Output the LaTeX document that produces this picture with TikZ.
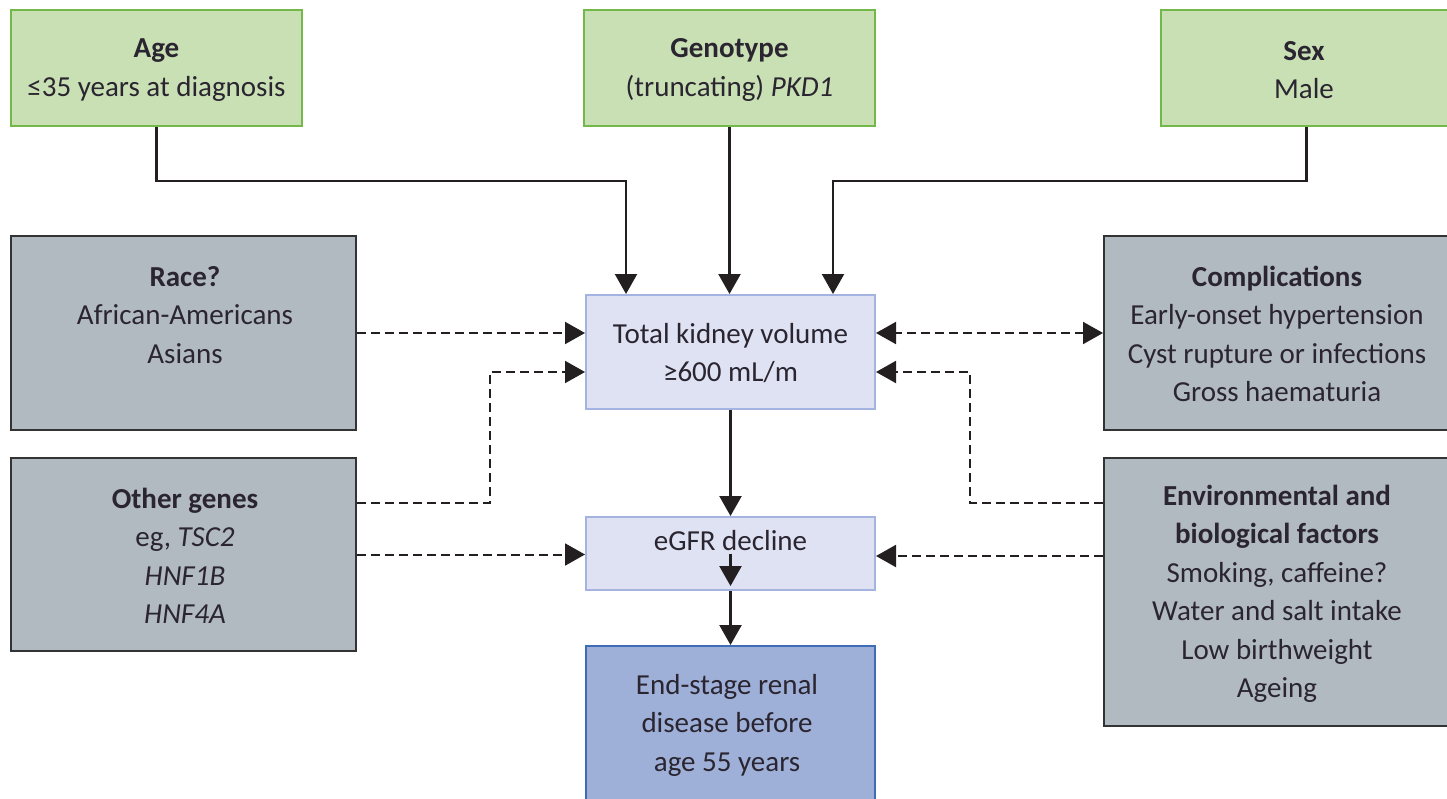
\documentclass[tikz,border=0pt]{standalone}
\usepackage{fontspec}
\setmainfont{Carlito}
\usetikzlibrary{arrows.meta,calc}
\definecolor{gfill}{HTML}{C9E0B4}
\definecolor{gdraw}{HTML}{74B84A}
\definecolor{sfill}{HTML}{B2BAC1}
\definecolor{sdraw}{HTML}{333333}
\definecolor{bfill}{HTML}{DEE2F2}
\definecolor{bdraw}{HTML}{A4B3E0}
\definecolor{dfill}{HTML}{9FB0D8}
\definecolor{ddraw}{HTML}{3F6DB5}
\definecolor{txtc}{HTML}{2A2530}
\definecolor{linec}{HTML}{231F20}
\tikzset{
  boxbase/.style={rectangle, line width=2pt, inner sep=0pt},
  greenbox/.style={boxbase, fill=gfill, draw=gdraw},
  greybox/.style={boxbase, fill=sfill, draw=sdraw},
  bluebox/.style={boxbase, fill=bfill, draw=bdraw},
  darkbox/.style={boxbase, fill=dfill, draw=ddraw},
  txt/.style={align=center, text=txtc, inner sep=0pt, font=\fontsize{29}{38.5}\selectfont},
  tip/.style={-{Triangle[length=20pt,width=22pt]}},
  solidline/.style={tip, line width=2.3pt, draw=linec},
  dashline/.style={tip, line width=2pt, draw=linec, dash pattern=on 9pt off 5pt},
}
\begin{document}
\begin{tikzpicture}[x=1pt,y=-1pt]
\useasboundingbox (0,0) rectangle (1447,798);
% boxes
\node[greenbox, minimum width=291pt, minimum height=116pt] (age) at (156.5,68) {};
\node[greenbox, minimum width=291pt, minimum height=116pt] (geno) at (729.5,68) {};
\node[greenbox, minimum width=291pt, minimum height=116pt] (sex) at (1306.5,68) {};
\node[greybox, minimum width=345pt, minimum height=194pt] (race) at (183.5,333) {};
\node[greybox, minimum width=345pt, minimum height=193pt] (other) at (183.5,554.5) {};
\node[greybox, minimum width=346pt, minimum height=194pt] (comp) at (1277,333) {};
\node[greybox, minimum width=346pt, minimum height=268pt] (env) at (1277,592) {};
\node[bluebox, minimum width=289pt, minimum height=114pt] (tkv) at (730.5,352) {};
\node[bluebox, minimum width=289pt, minimum height=73pt] (egfr) at (730.5,553.5) {};
\node[darkbox, minimum width=289pt, minimum height=156pt] (esrd) at (730.5,724) {};
% texts
\node[txt] (agetxt) at (156.5,70) {\textbf{Age}\\≤35 years at diagnosis};
\node[txt] (genotxt) at (729.5,70) {\textbf{Genotype}\\(truncating) \textit{PKD1}};
\node[txt] (sextxt) at (1304,70) {\textbf{Sex}\\Male};
\node[txt] (racetxt) at (185,315) {\textbf{Race?}\\African-Americans\\Asians};
\node[txt] (othertxt) at (185,556) {\textbf{Other genes}\\eg, \textit{TSC2}\\\textit{HNF1B}\\\textit{HNF4A}};
\node[txt] (comptxt) at (1277,334) {\textbf{Complications}\\Early-onset hypertension\\Cyst rupture or infections\\Gross haematuria};
\node[txt] (envtxt) at (1277,594) {\textbf{Environmental and}\\\textbf{biological factors}\\Smoking, caffeine?\\Water and salt intake\\Low birthweight\\Ageing};
\node[txt] (tkvtxt) at (730.5,353) {Total kidney volume\\≥600 mL/m};
\node[txt] (egfrtxt) at (730.5,541) {eGFR decline};
\node[txt] (esrdtxt) at (727,725) {End-stage renal\\disease before\\age 55 years};
% solid connectors
\draw[solidline] (age.south) -- ++(0,54) -| ([xshift=-104.5pt]tkv.north);
\draw[solidline] (geno.south) -- (geno.south |- tkv.north);
\draw[solidline] (sex.south) -- ++(0,54) -| ([xshift=102.5pt]tkv.north);
\draw[solidline] (tkv.south) -- (egfr.north);
\draw[solidline] (egfr.center) -- ([yshift=5pt]egfr.south);
\draw[solidline] (egfr.south) -- (esrd.north);
% dashed connectors
\draw[dashline] (race.east) -- (race.east -| tkv.west);
\draw[dashline] ([yshift=51.5pt]other.east) -- ++(133,0) |- ([yshift=-20pt]tkv.west);
\draw[dashline] (other.east) -- (other.east -| egfr.west);
\draw[dashline, {Triangle[length=20pt,width=22pt]}-{Triangle[length=20pt,width=22pt]}] (comp.west) -- (comp.west -| tkv.east);
\draw[dashline] ([yshift=89pt]env.west) -- ++(-133,0) |- ([yshift=-20pt]tkv.east);
\draw[dashline] ([yshift=36pt]env.west) -- ([yshift=36pt]env.west -| egfr.east);
\end{tikzpicture}
\end{document}
